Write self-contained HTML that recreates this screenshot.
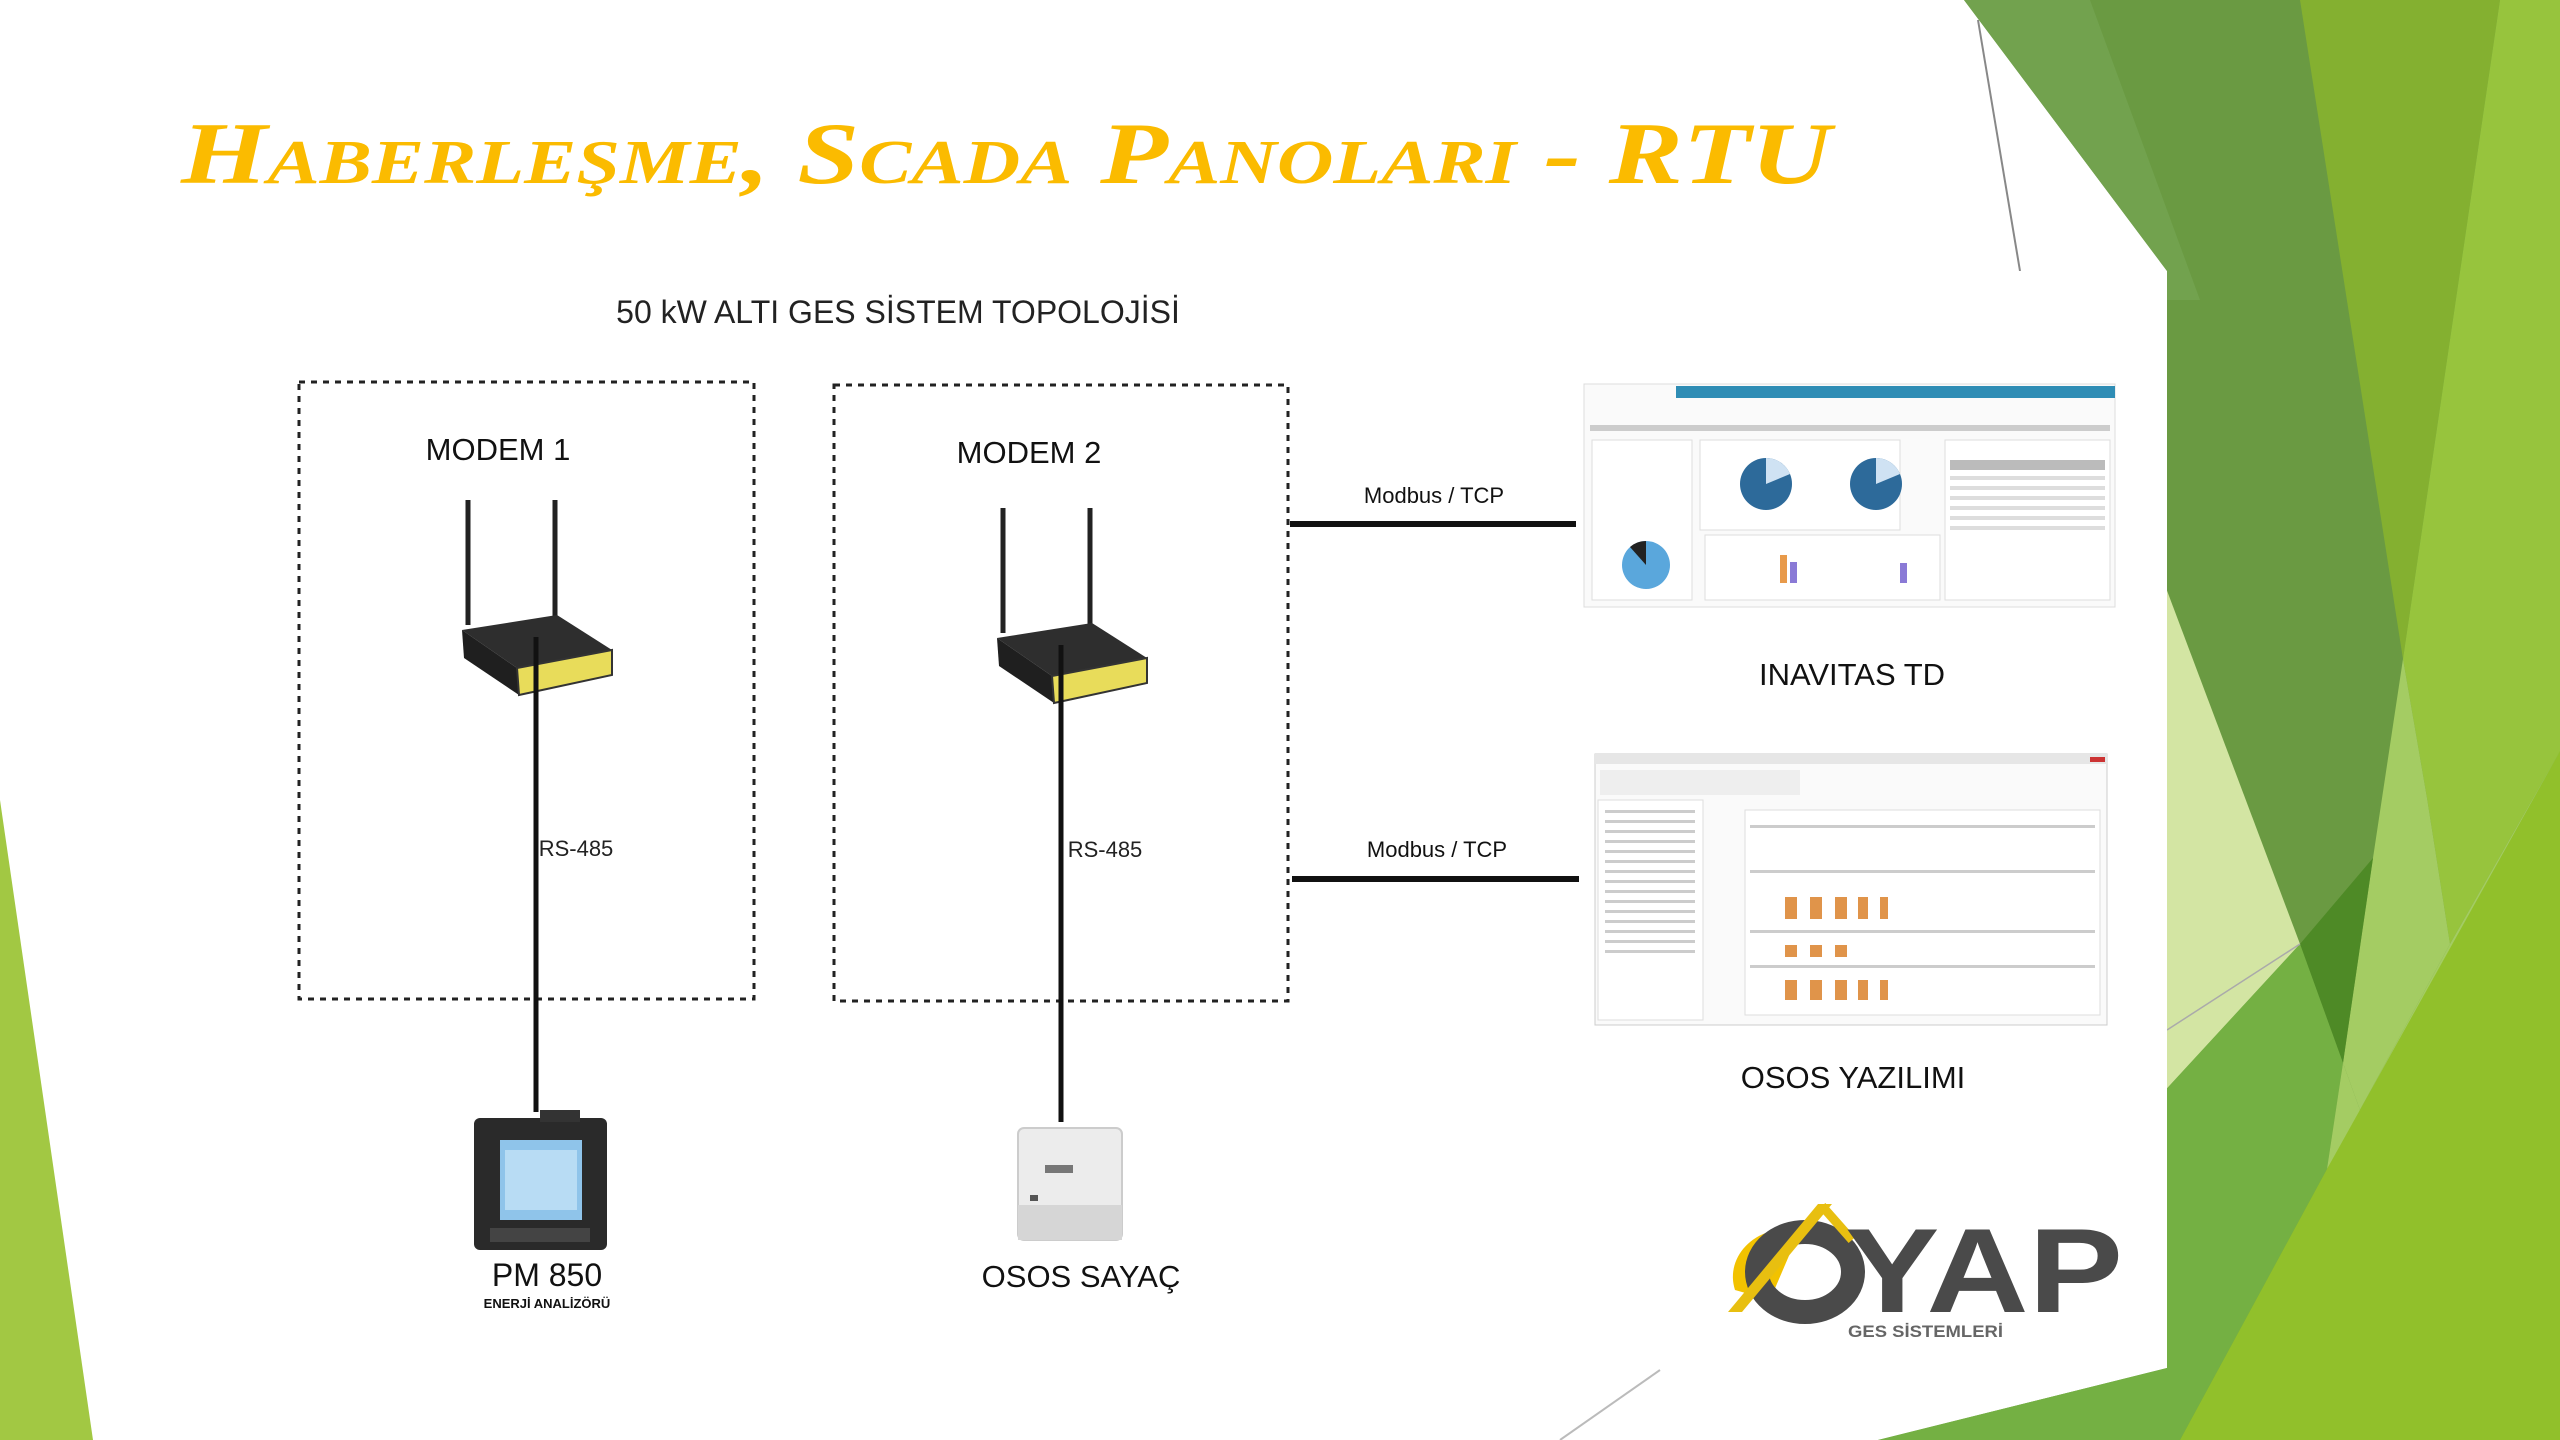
<!DOCTYPE html>
<html><head><meta charset="utf-8"><style>
html,body{margin:0;padding:0;background:#fff;}
svg{display:block}
text{font-family:"Liberation Sans","DejaVu Sans",sans-serif;}
</style></head><body>
<svg width="2560" height="1440" viewBox="0 0 2560 1440" xmlns="http://www.w3.org/2000/svg">
<rect width="2560" height="1440" fill="#fff"/>
<polygon points="0,800 93,1440 0,1440" fill="#a2c843"/>
<polygon points="1964,0 2560,0 2560,1440 1878,1440 2167,1368 2167,271" fill="#6a9a42"/>
<polygon points="1964,0 2090,0 2200,300 2167,300 2167,271" fill="#72a24e"/>
<polygon points="2300,0 2500,0 2403,659" fill="#84b030"/>
<polygon points="2500,0 2560,0 2560,751 2450,944 2427,798 2403,659" fill="#97c43d"/>
<polygon points="2403,659 2427,798 2450,944 2360,1110 2343,1063 2373,858" fill="#a4cc63"/>
<polygon points="2160,572 2300,944 2160,1096" fill="#d3e5a3"/>
<polygon points="2300,944 2373,858 2343,1063" fill="#4e8a26"/>
<polygon points="2160,1096 2300,944 2343,1063 2327,1169 2180,1440 1878,1440 2167,1368" fill="#74b043"/>
<polygon points="2327,1169 2343,1063 2360,1110 2450,944 2560,751 2560,800" fill="#a4cc63"/>
<polygon points="2327,1169 2560,751 2560,1440 2180,1440" fill="#91c02b"/>
<line x1="1978" y1="20" x2="2020" y2="271" stroke="#888" stroke-width="2"/>
<line x1="1560" y1="1440" x2="1660" y2="1370" stroke="#bbb" stroke-width="2"/>
<line x1="2167" y1="1030" x2="2300" y2="944" stroke="#aaa" stroke-width="1.5"/>
<rect x="290" y="271" width="1877" height="1097" fill="#fff"/>

<text x="181" y="183" textLength="1650" lengthAdjust="spacingAndGlyphs" font-weight="bold" font-style="italic" font-size="88" fill="#fbbb00" style="font-variant:small-caps;font-family:'Liberation Serif',serif">Haberleşme, Scada Panoları - RTU</text>

<text x="898" y="323" text-anchor="middle" font-size="32" fill="#222">50 kW ALTI GES SİSTEM TOPOLOJİSİ</text>

<rect x="299" y="382" width="455" height="617" fill="none" stroke="#222" stroke-width="3" stroke-dasharray="6,6"/>
<rect x="834" y="385" width="454" height="616" fill="none" stroke="#222" stroke-width="3" stroke-dasharray="6,6"/>

<text x="498" y="460" text-anchor="middle" font-size="31" fill="#111">MODEM 1</text>
<text x="1029" y="463" text-anchor="middle" font-size="31" fill="#111">MODEM 2</text>

<g transform="translate(462,500)">
<line x1="6" y1="0" x2="6" y2="125" stroke="#222" stroke-width="5"/>
<line x1="93" y1="0" x2="93" y2="118" stroke="#222" stroke-width="5"/>
<polygon points="0,130 95,115 150,150 55,168" fill="#2e2e2e"/>
<polygon points="0,130 55,168 57,195 2,158" fill="#1f1f1f"/>
<polygon points="55,168 150,150 150,175 57,195" fill="#e8dc5a" stroke="#333" stroke-width="2"/>
</g>
<g transform="translate(997,508)">
<line x1="6" y1="0" x2="6" y2="125" stroke="#222" stroke-width="5"/>
<line x1="93" y1="0" x2="93" y2="118" stroke="#222" stroke-width="5"/>
<polygon points="0,130 95,115 150,150 55,168" fill="#2e2e2e"/>
<polygon points="0,130 55,168 57,195 2,158" fill="#1f1f1f"/>
<polygon points="55,168 150,150 150,175 57,195" fill="#e8dc5a" stroke="#333" stroke-width="2"/>
</g>

<line x1="536" y1="637" x2="536" y2="1112" stroke="#111" stroke-width="5"/>
<line x1="1061" y1="645" x2="1061" y2="1122" stroke="#111" stroke-width="5"/>
<text x="576" y="856" text-anchor="middle" font-size="22" fill="#222">RS-485</text>
<text x="1105" y="857" text-anchor="middle" font-size="22" fill="#222">RS-485</text>

<g>
<rect x="474" y="1118" width="133" height="132" rx="6" fill="#2a2a2a"/>
<rect x="540" y="1110" width="40" height="12" fill="#333"/>
<rect x="500" y="1140" width="82" height="80" fill="#8fc4ea"/>
<rect x="505" y="1150" width="72" height="60" fill="#b8dcf4"/>
<rect x="490" y="1228" width="100" height="14" fill="#444"/>
</g>
<text x="547" y="1286" text-anchor="middle" font-size="32" fill="#111">PM 850</text>
<text x="547" y="1308" text-anchor="middle" font-size="13" font-weight="bold" fill="#111">ENERJİ ANALİZÖRÜ</text>

<g>
<rect x="1018" y="1128" width="104" height="112" rx="6" fill="#ececec" stroke="#ccc" stroke-width="2"/>
<rect x="1018" y="1205" width="104" height="35" fill="#d6d6d6"/>
<rect x="1045" y="1165" width="28" height="8" fill="#777"/>
<rect x="1030" y="1195" width="8" height="6" fill="#555"/>
</g>
<text x="1081" y="1287" text-anchor="middle" font-size="31" fill="#111">OSOS SAYAÇ</text>

<line x1="1290" y1="524" x2="1576" y2="524" stroke="#111" stroke-width="6"/>
<line x1="1292" y1="879" x2="1579" y2="879" stroke="#111" stroke-width="6"/>
<text x="1434" y="503" text-anchor="middle" font-size="22" fill="#111">Modbus / TCP</text>
<text x="1437" y="857" text-anchor="middle" font-size="22" fill="#111">Modbus / TCP</text>

<g>
<rect x="1584" y="384" width="531" height="223" fill="#fafafa" stroke="#ddd"/>
<rect x="1676" y="386" width="439" height="12" fill="#2f8db5"/>
<rect x="1590" y="425" width="520" height="6" fill="#ccc"/>
<rect x="1592" y="440" width="100" height="160" fill="#fff" stroke="#ddd"/>
<rect x="1700" y="440" width="200" height="90" fill="#fff" stroke="#ddd"/>
<rect x="1945" y="440" width="165" height="160" fill="#fff" stroke="#ddd"/>
<rect x="1950" y="460" width="155" height="10" fill="#bbb"/>
<g fill="#ddd"><rect x="1950" y="476" width="155" height="4"/><rect x="1950" y="486" width="155" height="4"/><rect x="1950" y="496" width="155" height="4"/><rect x="1950" y="506" width="155" height="4"/><rect x="1950" y="516" width="155" height="4"/><rect x="1950" y="526" width="155" height="4"/></g>
<circle cx="1766" cy="484" r="26" fill="#2d6a9a"/><path d="M1766 484 L1766 458 A26 26 0 0 1 1790 474 Z" fill="#cfe2f3"/>
<circle cx="1876" cy="484" r="26" fill="#2d6a9a"/><path d="M1876 484 L1876 458 A26 26 0 0 1 1900 474 Z" fill="#cfe2f3"/>
<circle cx="1646" cy="565" r="24" fill="#5aa7dc"/><path d="M1646 565 L1630 547 A24 24 0 0 1 1646 541 Z" fill="#222"/>
<rect x="1705" y="535" width="235" height="65" fill="#fff" stroke="#ddd"/>
<rect x="1780" y="555" width="7" height="28" fill="#e89a4a"/><rect x="1790" y="562" width="7" height="21" fill="#8a7ad6"/><rect x="1900" y="563" width="7" height="20" fill="#8a7ad6"/>
</g>
<text x="1852" y="685" text-anchor="middle" font-size="31" fill="#111">INAVITAS TD</text>

<g>
<rect x="1595" y="754" width="512" height="271" fill="#fafafa" stroke="#ccc"/>
<rect x="1595" y="754" width="512" height="10" fill="#e6e6e6"/>
<rect x="2090" y="757" width="15" height="5" fill="#c33"/>
<rect x="1600" y="770" width="200" height="25" fill="#eee"/>
<rect x="1598" y="800" width="105" height="220" fill="#fff" stroke="#ddd"/>
<g fill="#ccc"><rect x="1605" y="810" width="90" height="3"/><rect x="1605" y="820" width="90" height="3"/><rect x="1605" y="830" width="90" height="3"/><rect x="1605" y="840" width="90" height="3"/><rect x="1605" y="850" width="90" height="3"/><rect x="1605" y="860" width="90" height="3"/><rect x="1605" y="870" width="90" height="3"/><rect x="1605" y="880" width="90" height="3"/><rect x="1605" y="890" width="90" height="3"/><rect x="1605" y="900" width="90" height="3"/><rect x="1605" y="910" width="90" height="3"/><rect x="1605" y="920" width="90" height="3"/><rect x="1605" y="930" width="90" height="3"/><rect x="1605" y="940" width="90" height="3"/><rect x="1605" y="950" width="90" height="3"/></g>
<rect x="1745" y="810" width="355" height="205" fill="#fff" stroke="#ddd"/>
<g fill="#ccc"><rect x="1750" y="825" width="345" height="3"/><rect x="1750" y="870" width="345" height="3"/><rect x="1750" y="930" width="345" height="3"/><rect x="1750" y="965" width="345" height="3"/></g>
<g fill="#e0944a"><rect x="1785" y="897" width="12" height="22"/><rect x="1810" y="897" width="12" height="22"/><rect x="1835" y="897" width="12" height="22"/><rect x="1858" y="897" width="10" height="22"/><rect x="1880" y="897" width="8" height="22"/><rect x="1785" y="945" width="12" height="12"/><rect x="1810" y="945" width="12" height="12"/><rect x="1835" y="945" width="12" height="12"/><rect x="1785" y="980" width="12" height="20"/><rect x="1810" y="980" width="12" height="20"/><rect x="1835" y="980" width="12" height="20"/><rect x="1858" y="980" width="10" height="20"/><rect x="1880" y="980" width="8" height="20"/></g>
</g>
<text x="1853" y="1088" text-anchor="middle" font-size="31" fill="#111">OSOS YAZILIMI</text>

<g>
<path d="M1735 1290 A55 48 0 0 1 1800 1230 L1770 1300 Z" fill="#f2c200"/>
<ellipse cx="1805" cy="1272" rx="48" ry="40" fill="none" stroke="#4a4a4a" stroke-width="24"/>
<polygon points="1728,1312 1818,1204 1832,1204 1742,1312" fill="#e8bf10"/>
<polyline points="1822,1206 1852,1240" fill="none" stroke="#e8bf10" stroke-width="9"/>
<text x="1845" y="1312" font-weight="bold" font-size="120" fill="#4a4a4a" textLength="278" lengthAdjust="spacingAndGlyphs">YAP</text>
<text x="1848" y="1337" font-weight="bold" font-size="17" fill="#666" textLength="155" lengthAdjust="spacingAndGlyphs">GES SİSTEMLERİ</text>
</g>
</svg>
</body></html>
